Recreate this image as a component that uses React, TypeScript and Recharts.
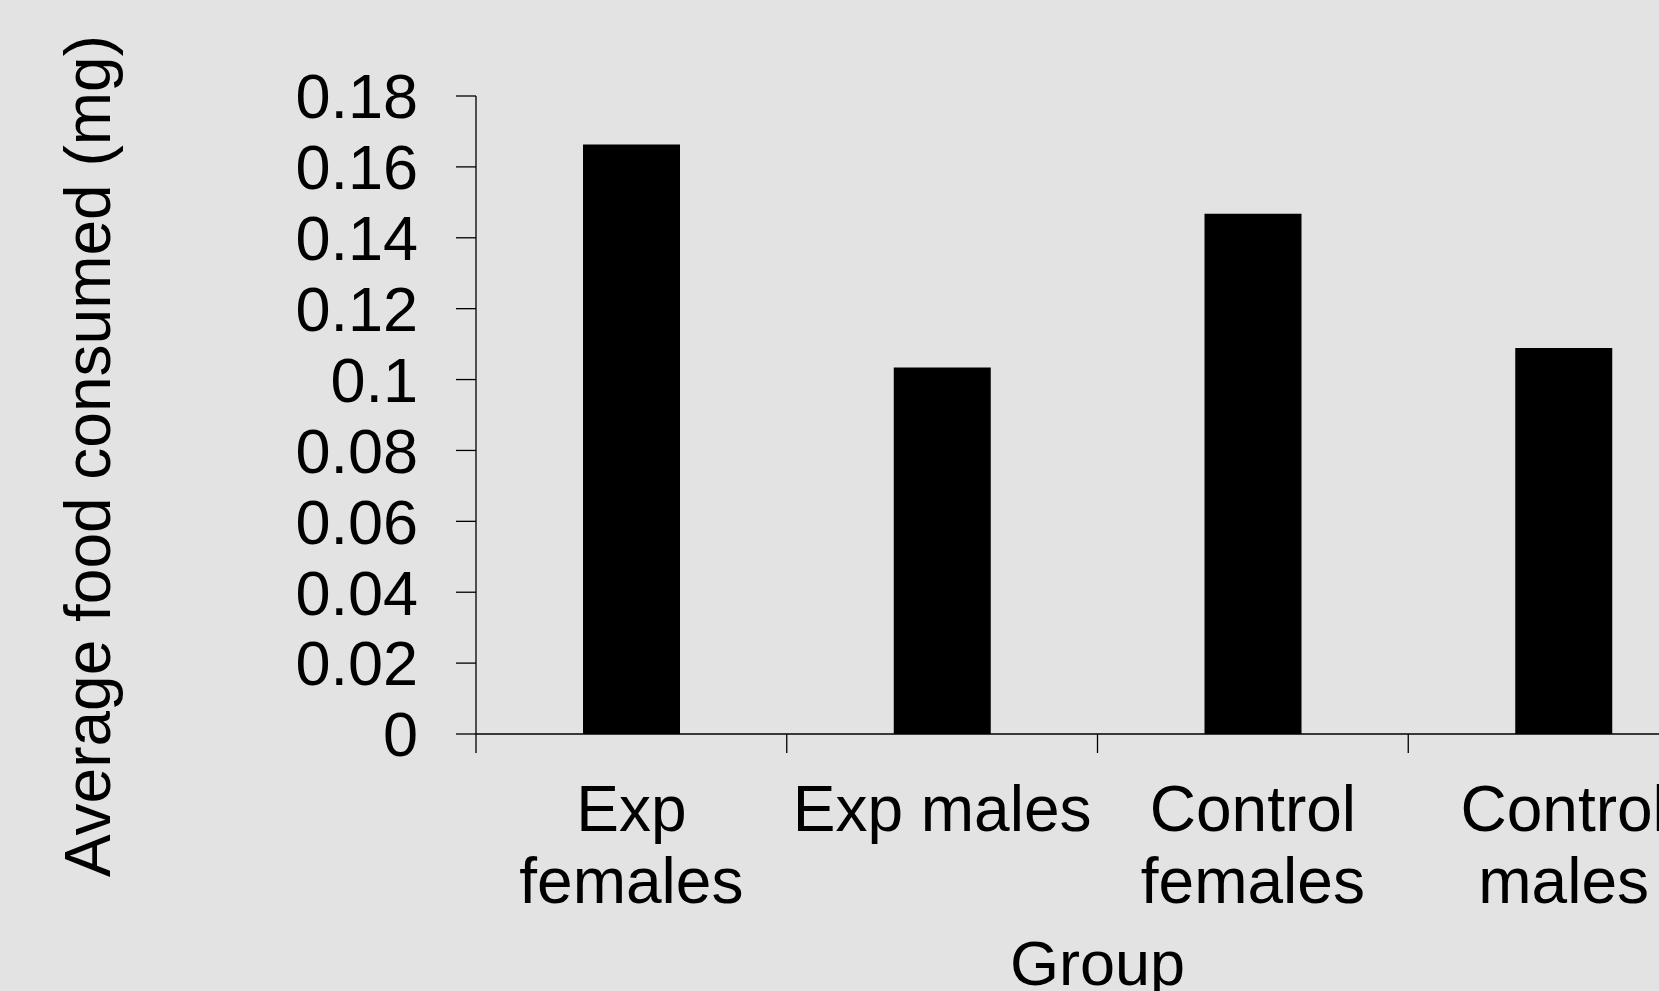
import React from 'react';
import { BarChart, Bar, XAxis, YAxis, Label } from 'recharts';

const categories = ['Exp females', 'Exp males', 'Control females', 'Control males'];
const tickLines = [['Exp', 'females'], ['Exp males'], ['Control', 'females'], ['Control', 'males']];
const foodConsumed = [0.1663, 0.1034, 0.1468, 0.1089];
const yTicks = [0, 0.02, 0.04, 0.06, 0.08, 0.1, 0.12, 0.14, 0.16, 0.18];

const FONT = '"Liberation Sans", Arial, sans-serif';

const data = categories.map((name, i) => ({ name, value: foodConsumed[i] }));

// category label plus a tick mark on the left edge of its band
function GroupTick({ x, y, index, payload }: any) {
  const lines = tickLines[index] || [];
  const half = payload && payload.offset ? payload.offset : 0;
  return (
    <g>
      <line x1={x - half} x2={x - half} y1={y} y2={y + 19} stroke="#000" strokeWidth={1.3} />
      <text x={x} y={y} textAnchor="middle" fill="#000" fontSize={64} fontFamily={FONT}>
        {lines.map((l, i) => (
          <tspan key={i} x={x} dy={i === 0 ? 97 : 72}>{l}</tspan>
        ))}
      </text>
    </g>
  );
}

function YLabel() {
  return (
    <text x={110} y={456} transform="rotate(-90 110 456)" textAnchor="middle" fill="#000" fontSize={64} fontFamily={FONT}>
      Average food consumed (mg)
    </text>
  );
}

export default function App() {
  return (
    <div style={{ position: 'fixed', top: 0, left: 0, width: 1659, height: 991, overflow: 'hidden', background: '#e3e3e3' }}>
      <BarChart width={1800} height={991} data={data} margin={{ top: 96, right: 81, bottom: 0, left: 0 }}>
        <XAxis
          dataKey="name"
          height={257}
          tickSize={0}
          tickMargin={0}
          tick={<GroupTick />}
          interval={0}
          axisLine={{ stroke: '#000', strokeWidth: 1.3 }}
          tickLine={false}
        >
          <Label value="Group" position="insideBottom" offset={6} fill="#000" fontSize={63} fontFamily={FONT} />
        </XAxis>
        <YAxis
          width={476}
          domain={[0, 0.18]}
          ticks={yTicks}
          interval={0}
          tickSize={20}
          tickMargin={38}
          tickFormatter={(v: number) => String(Number(v.toFixed(2)))}
          tick={{ fill: '#000', fontSize: 63, fontFamily: FONT }}
          axisLine={{ stroke: '#000', strokeWidth: 1.3 }}
          tickLine={{ stroke: '#000', strokeWidth: 1.3 }}
          label={<YLabel />}
        />
        <Bar dataKey="value" fill="#000" barSize={97} isAnimationActive={false} />
      </BarChart>
    </div>
  );
}
